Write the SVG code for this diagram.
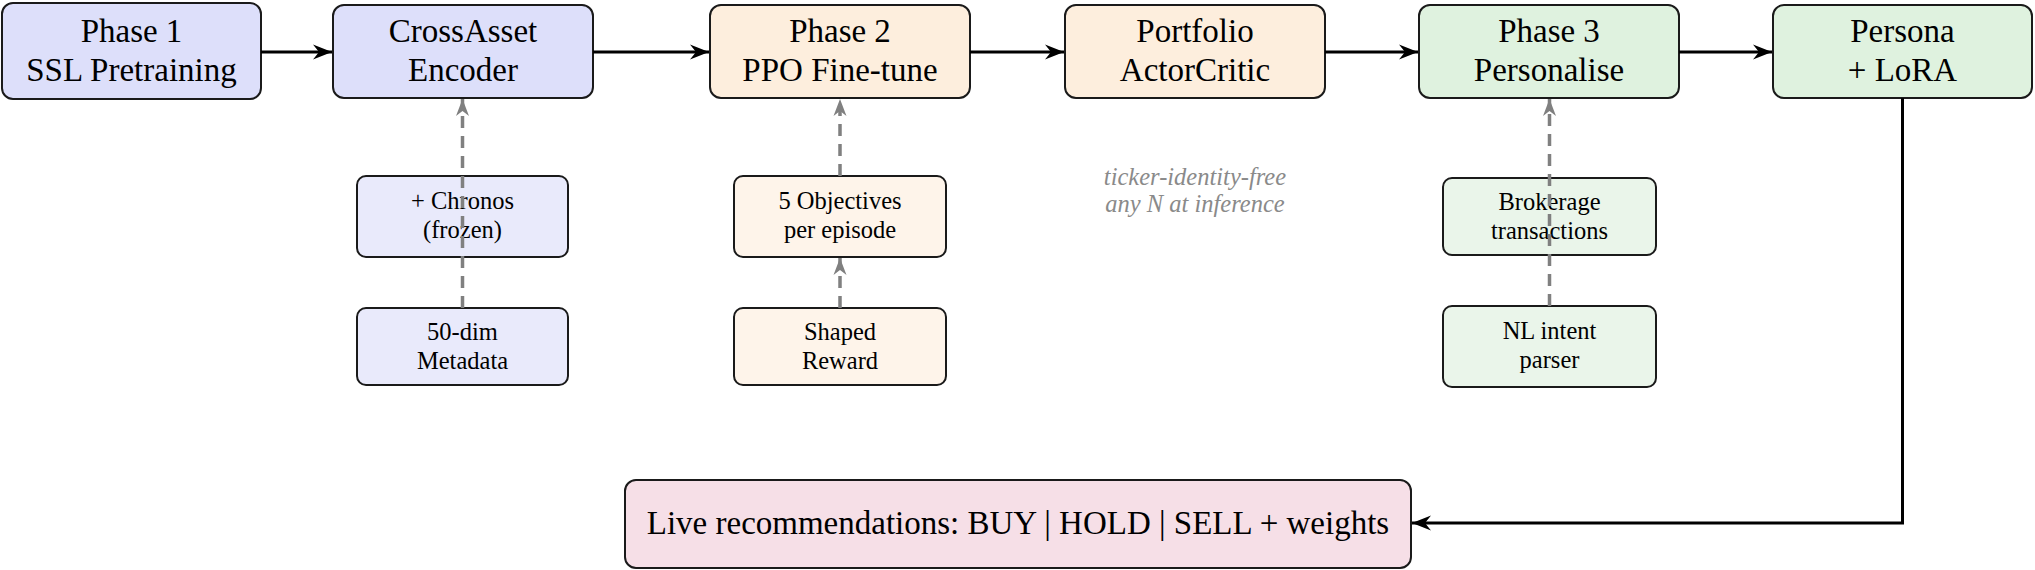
<svg xmlns="http://www.w3.org/2000/svg" width="2035" height="570" viewBox="0 0 2035 570">
<style>
  .box { stroke: #1a1a1a; stroke-width: 2; }
  .big { font-family: "Liberation Serif", "Times New Roman", serif; font-size: 33px; fill: #000; text-anchor: middle; }
  .small { font-family: "Liberation Serif", "Times New Roman", serif; font-size: 24.5px; fill: #000; text-anchor: middle; }
  .note { font-family: "Liberation Serif", "Times New Roman", serif; font-size: 24.5px; font-style: italic; fill: #8a8a8a; text-anchor: middle; }
  .blue { fill: #dddffa; }
  .blueL { fill: #e9eafb; }
  .orange { fill: #fdeedd; }
  .orangeL { fill: #fef4ea; }
  .green { fill: #dff2df; }
  .greenL { fill: #eaf5ea; }
  .pink { fill: #f6dfe7; }
  .flow { fill: none; stroke: #000; stroke-width: 3; marker-end: url(#stealth); }
  .dash { fill: none; stroke: #808080; stroke-width: 3.5; stroke-dasharray: 12 8; marker-end: url(#grayhead); }
</style>
<defs>
  <marker id="stealth" markerUnits="userSpaceOnUse" viewBox="-20 -8 21 16" refX="0" refY="0" markerWidth="21" markerHeight="16" orient="auto">
    <path d="M0,0 L-19,-7.5 L-13,0 L-19,7.5 Z" fill="#000" stroke="none"/>
  </marker>
  <marker id="grayhead" markerUnits="userSpaceOnUse" viewBox="-18 -8 19 16" refX="0" refY="0" markerWidth="19" markerHeight="16" orient="auto">
    <path d="M0,0 L-17,-6.5 L-12,0 L-17,6.5 Z" fill="#808080" stroke="none"/>
  </marker>
</defs>

<g id="phase1">
  <rect class="box blue" x="2" y="3" width="259" height="96" rx="11"/>
  <text class="big" x="131.5" y="42">Phase 1</text>
  <text class="big" x="131.5" y="81">SSL Pretraining</text>
</g>
<g id="crossasset">
  <rect class="box blue" x="333" y="5" width="260" height="93" rx="11"/>
  <text class="big" x="463" y="42">CrossAsset</text>
  <text class="big" x="463" y="81">Encoder</text>
</g>
<g id="phase2">
  <rect class="box orange" x="710" y="5" width="260" height="93" rx="11"/>
  <text class="big" x="840" y="42">Phase 2</text>
  <text class="big" x="840" y="81">PPO Fine-tune</text>
</g>
<g id="portfolio">
  <rect class="box orange" x="1065" y="5" width="260" height="93" rx="11"/>
  <text class="big" x="1195" y="42">Portfolio</text>
  <text class="big" x="1195" y="81">ActorCritic</text>
</g>
<g id="phase3">
  <rect class="box green" x="1419" y="5" width="260" height="93" rx="11"/>
  <text class="big" x="1549" y="42">Phase 3</text>
  <text class="big" x="1549" y="81">Personalise</text>
</g>
<g id="persona">
  <rect class="box green" x="1773" y="5" width="259" height="93" rx="11"/>
  <text class="big" x="1902.5" y="42">Persona</text>
  <text class="big" x="1902.5" y="81">+ LoRA</text>
</g>

<g id="chronos">
  <rect class="box blueL" x="357" y="176" width="211" height="81" rx="9"/>
  <text class="small" x="462.5" y="208.5">+ Chronos</text>
  <text class="small" x="462.5" y="237.5">(frozen)</text>
</g>
<g id="metadata">
  <rect class="box blueL" x="357" y="308" width="211" height="77" rx="9"/>
  <text class="small" x="462.5" y="340">50-dim</text>
  <text class="small" x="462.5" y="369">Metadata</text>
</g>
<g id="objectives">
  <rect class="box orangeL" x="734" y="176" width="212" height="81" rx="9"/>
  <text class="small" x="840" y="208.5">5 Objectives</text>
  <text class="small" x="840" y="237.5">per episode</text>
</g>
<g id="reward">
  <rect class="box orangeL" x="734" y="308" width="212" height="77" rx="9"/>
  <text class="small" x="840" y="340">Shaped</text>
  <text class="small" x="840" y="369">Reward</text>
</g>
<g id="brokerage">
  <rect class="box greenL" x="1443" y="178" width="213" height="77" rx="9"/>
  <text class="small" x="1549.5" y="209.5">Brokerage</text>
  <text class="small" x="1549.5" y="238.5">transactions</text>
</g>
<g id="intent">
  <rect class="box greenL" x="1443" y="306" width="213" height="81" rx="9"/>
  <text class="small" x="1549.5" y="338.5">NL intent</text>
  <text class="small" x="1549.5" y="367.5">parser</text>
</g>

<g id="note">
  <text class="note" x="1195" y="185">ticker-identity-free</text>
  <text class="note" x="1195" y="212">any N at inference</text>
</g>

<g id="live">
  <rect class="box pink" x="625" y="480" width="786" height="88" rx="11"/>
  <text class="big" x="1018" y="534">Live recommendations: BUY | HOLD | SELL + weights</text>
</g>

<g id="connectors">
  <line class="flow" x1="261" y1="52" x2="332" y2="52"/>
  <line class="flow" x1="593" y1="52" x2="709" y2="52"/>
  <line class="flow" x1="970" y1="52" x2="1064" y2="52"/>
  <line class="flow" x1="1325" y1="52" x2="1418" y2="52"/>
  <line class="flow" x1="1679" y1="52" x2="1772" y2="52"/>
  <polyline class="flow" points="1902.5,98 1902.5,523 1412,523"/>
  <line class="dash" x1="462.5" y1="308" x2="462.5" y2="99"/>
  <line class="dash" x1="840" y1="308" x2="840" y2="258"/>
  <line class="dash" x1="840" y1="176" x2="840" y2="99"/>
  <line class="dash" x1="1549.5" y1="306" x2="1549.5" y2="99"/>
</g>
</svg>
